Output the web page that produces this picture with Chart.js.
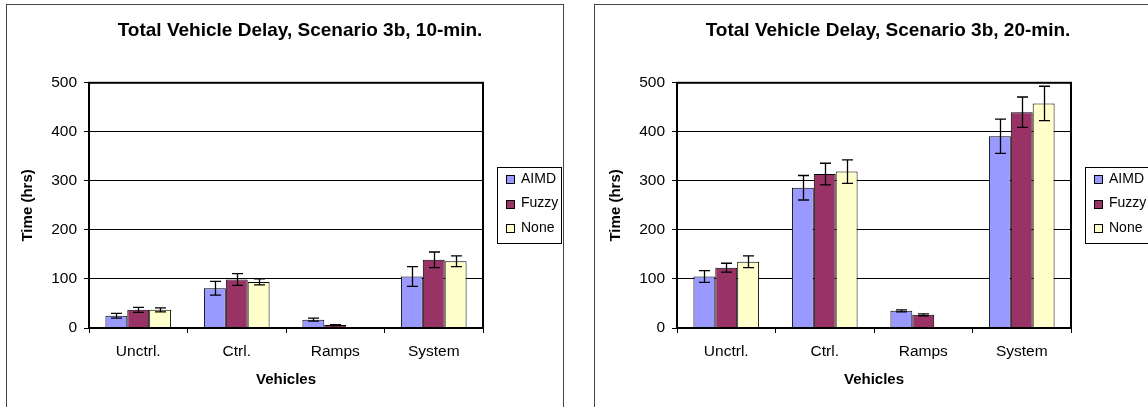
<!DOCTYPE html>
<html><head><meta charset="utf-8">
<script src="https://cdn.jsdelivr.net/npm/chart.js@4/dist/chart.umd.min.js"></script>
<style>
html,body{margin:0;padding:0;background:#fff;overflow:hidden;width:1148px;height:407px;position:relative;}
.box{position:absolute;top:4px;border:1px solid #444;height:420px;box-sizing:border-box;}
.wrap{position:absolute;top:0;width:580px;height:407px;}
</style></head><body>
<div class="box" style="left:6px;width:558px"></div>
<div class="box" style="left:594px;width:600px"></div>
<div class="wrap" style="left:0px"><canvas id="c1"></canvas></div>
<div class="wrap" style="left:588px"><canvas id="c2"></canvas></div>
<script>
const categories = ['Unctrl.', 'Ctrl.', 'Ramps', 'System'];
const seriesNames = ['AIMD', 'Fuzzy', 'None'];
const seriesColors = ['#9999FF', '#993366', '#FFFFCC'];
const yTickValues = [0, 100, 200, 300, 400, 500];
const xAxisTitle = 'Vehicles';
const yAxisTitle = 'Time (hrs)';

// Scenario 3b, 10-min.
const title10 = 'Total Vehicle Delay, Scenario 3b, 10-min.';
const aimd10 = [25, 81, 17, 105];
const aimd10Err = [5, 14, 3, 20];
const fuzzy10 = [37, 99, 6, 139];
const fuzzy10Err = [5, 12, 1, 16];
const none10 = [37, 94, 1, 136];
const none10Err = [4, 6, 0, 11];

// Scenario 3b, 20-min.
const title20 = 'Total Vehicle Delay, Scenario 3b, 20-min.';
const aimd20 = [105, 286, 35, 391];
const aimd20Err = [12, 25, 2, 35];
const fuzzy20 = [123, 314, 27, 440];
const fuzzy20Err = [9, 22, 2, 31];
const none20 = [135, 319, 1, 458];
const none20Err = [12, 24, 0, 35];

const FONT = 'Arial, "Liberation Sans", sans-serif';

const shiftTitle = {
  id: 'shiftTitle',
  afterLayout(chart) {
    const t = chart.titleBlock;
    if (t) { const dx = 300 - (t.left + t.right) / 2; t.left += dx; t.right += dx; }
  }
};

const errorBars = {
  id: 'errorBars',
  afterDatasetsDraw(chart) {
    const ctx = chart.ctx, ys = chart.scales.y;
    ctx.save();
    ctx.strokeStyle = '#000';
    ctx.lineWidth = 1.3;
    chart.data.datasets.forEach((ds, i) => {
      const meta = chart.getDatasetMeta(i);
      meta.data.forEach((bar, j) => {
        const e = ds.errors[j];
        if (!e) return;
        const v = ds.data[j];
        const x = Math.round(bar.x) + 0.5;
        const yh = ys.getPixelForValue(v + e), yl = ys.getPixelForValue(v - e);
        ctx.beginPath();
        ctx.moveTo(x, yh); ctx.lineTo(x, yl);
        ctx.moveTo(x - 5.5, yh); ctx.lineTo(x + 5.5, yh);
        ctx.moveTo(x - 5.5, yl); ctx.lineTo(x + 5.5, yl);
        ctx.stroke();
      });
    });
    // plot-area frame
    const a = chart.chartArea;
    ctx.lineWidth = 2;
    ctx.strokeRect(a.left, a.top, a.right - a.left, a.bottom - a.top);
    ctx.restore();
  }
};

const boxLegend = {
  id: 'boxLegend',
  afterDraw(chart) {
    const ctx = chart.ctx, a = chart.chartArea;
    const left = a.right + 14, w = 64, h = 76;
    const top = Math.round((a.top + a.bottom) / 2 - h / 2);
    ctx.save();
    ctx.strokeStyle = '#000';
    ctx.lineWidth = 1;
    ctx.strokeRect(left + 0.5, top + 0.5, w, h);
    ctx.font = '14px ' + FONT;
    ctx.textBaseline = 'middle';
    ctx.fillStyle = '#000';
    chart.data.datasets.forEach((ds, i) => {
      const cy = top + 12 + i * 24.5;
      ctx.fillStyle = ds.backgroundColor;
      ctx.fillRect(left + 9.5, Math.round(cy - 4) + 0.5, 8, 8);
      ctx.strokeStyle = '#000';
      ctx.strokeRect(left + 9.5, Math.round(cy - 4) + 0.5, 8, 8);
      ctx.fillStyle = '#000';
      ctx.fillText(ds.label, left + 24, cy);
    });
    ctx.restore();
  }
};

function makeChart(id, title, values, errors) {
  return new Chart(document.getElementById(id), {
    type: 'bar',
    data: {
      labels: categories,
      datasets: seriesNames.map((name, i) => ({
        label: name,
        data: values[i],
        errors: errors[i],
        backgroundColor: seriesColors[i],
        borderColor: '#000',
        borderWidth: 1,
        categoryPercentage: 0.6667,
        barPercentage: 1
      }))
    },
    options: {
      responsive: true,
      maintainAspectRatio: false,
      animation: false,
      devicePixelRatio: 1,
      layout: { padding: { left: 0, right: 97, top: 4, bottom: 0 } },
      plugins: {
        legend: { display: false },
        tooltip: { enabled: false },
        title: {
          display: true, text: title, color: '#000',
          font: { family: FONT, size: 19, weight: 'bold' },
          padding: { top: 15, bottom: 41 }
        }
      },
      scales: {
        x: {
          ticks: { font: { family: FONT, size: 15.5 }, color: '#000', padding: 9.5 },
          grid: { display: true, drawOnChartArea: false, drawTicks: true, tickLength: 5, color: '#000', offset: true },
          border: { display: true, color: '#000', width: 2 },
          title: { display: true, text: xAxisTitle, color: '#000', font: { family: FONT, size: 15, weight: 'bold' }, padding: { top: 0, bottom: 18 } },
          afterFit: (s) => { s.height = 79; }
        },
        y: {
          min: 0, max: 500,
          afterBuildTicks: (s) => { s.ticks = yTickValues.map(v => ({ value: v })); },
          ticks: { font: { family: FONT, size: 15.5 }, color: '#000', padding: 7 },
          grid: { color: '#000', lineWidth: 1, tickLength: 5, drawTicks: true },
          border: { display: true, color: '#000', width: 2 },
          title: { display: true, text: yAxisTitle, color: '#000', font: { family: FONT, size: 15, weight: 'bold' }, padding: { top: 19, bottom: 0 } },
          afterFit: (s) => { s.width = 89; }
        }
      }
    },
    plugins: [shiftTitle, errorBars, boxLegend]
  });
}

makeChart('c1', title10, [aimd10, fuzzy10, none10], [aimd10Err, fuzzy10Err, none10Err]);
makeChart('c2', title20, [aimd20, fuzzy20, none20], [aimd20Err, fuzzy20Err, none20Err]);
</script>
</body></html>
